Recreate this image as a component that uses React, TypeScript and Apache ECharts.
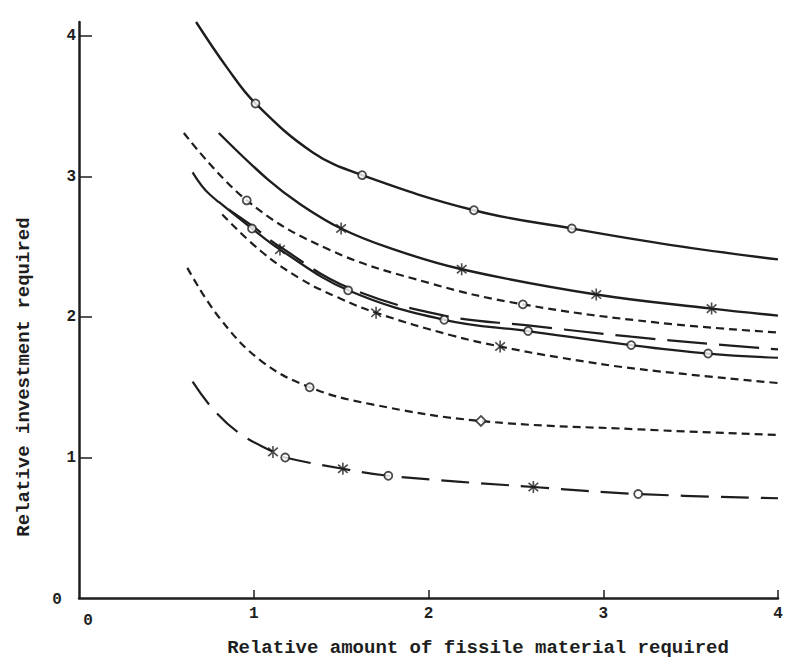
import React, { useEffect, useRef } from "react";
import * as echarts from "echarts";

const xTicks = [1, 2, 3, 4];
const yTicks = [1, 2, 3, 4];
const xTitle = "Relative amount of fissile material required";
const yTitle = "Relative investment required";

// Curves: [relative fissile material, relative investment]
const curve1 = [[0.67, 4.1], [0.85, 3.77], [1.01, 3.52], [1.34, 3.17], [1.62, 3.01], [2.26, 2.76], [2.82, 2.63], [3.4, 2.51], [4.0, 2.41]];
const curve1Circles = [[1.01, 3.52], [1.62, 3.01], [2.26, 2.76], [2.82, 2.63]];

const curve2 = [[0.8, 3.31], [1.08, 2.98], [1.27, 2.8], [1.5, 2.63], [1.78, 2.49], [2.19, 2.34], [2.96, 2.16], [3.62, 2.06], [4.0, 2.01]];
const curve2Stars = [[1.5, 2.63], [2.19, 2.34], [2.96, 2.16], [3.62, 2.06]];

const curve3 = [[0.6, 3.31], [0.96, 2.83], [1.43, 2.48], [2.01, 2.24], [2.54, 2.09], [3.31, 1.96], [4.0, 1.89]];
const curve3Circles = [[0.96, 2.83], [2.54, 2.09]];

const curve4 = [[0.65, 3.03], [0.75, 2.87], [0.99, 2.65], [1.15, 2.5], [1.54, 2.21], [2.09, 2.01], [2.57, 1.94], [3.16, 1.86], [3.6, 1.81], [4.0, 1.77]];

const curve5 = [[0.8, 2.82], [0.99, 2.63], [1.15, 2.48], [1.54, 2.19], [2.09, 1.98], [2.57, 1.9], [3.16, 1.8], [3.6, 1.74], [4.0, 1.71]];
const curve5Circles = [[0.99, 2.63], [1.54, 2.19], [2.09, 1.98], [2.57, 1.9], [3.16, 1.8], [3.6, 1.74]];
const curve5Stars = [[1.15, 2.48]];

const curve6 = [[0.82, 2.73], [1.04, 2.47], [1.27, 2.27], [1.48, 2.14], [1.7, 2.03], [2.13, 1.87], [2.41, 1.79], [2.76, 1.71], [3.2, 1.63], [4.0, 1.53]];
const curve6Stars = [[1.7, 2.03], [2.41, 1.79]];

const curve7 = [[0.62, 2.35], [0.8, 2.0], [1.04, 1.69], [1.32, 1.5], [1.67, 1.38], [2.3, 1.26], [3.21, 1.2], [4.0, 1.16]];
const curve7Circles = [[1.32, 1.5]];
const curve7Diamonds = [[2.3, 1.26]];

const curve8 = [[0.65, 1.54], [0.77, 1.34], [0.92, 1.17], [1.11, 1.04], [1.18, 1.0], [1.51, 0.92], [1.77, 0.87], [2.6, 0.79], [3.2, 0.74], [4.0, 0.71]];
const curve8Circles = [[1.18, 1.0], [1.77, 0.87], [3.2, 0.74]];
const curve8Stars = [[1.11, 1.04], [1.51, 0.92], [2.6, 0.79]];

const INK = "#1e1e1e";
const FONT = "Liberation Mono";
const STAR = "path://M5,0L5,10M1,1.5L9,8.5M9,1.5L1,8.5";

function lineSeries(data: number[][], type: any, width = 2.2) {
  return {
    type: "line",
    data,
    smooth: 0.4,
    showSymbol: false,
    symbol: "none",
    silent: true,
    lineStyle: { color: INK, width, type },
    z: 2,
  };
}

function markerSeries(data: number[][], kind: "circle" | "star" | "diamond") {
  if (kind === "star") {
    return {
      type: "scatter",
      data,
      symbol: STAR,
      symbolSize: 12,
      symbolKeepAspect: true,
      itemStyle: { color: "none", borderColor: INK, borderWidth: 1.6 },
      z: 4,
    };
  }
  return {
    type: "scatter",
    data,
    symbol: kind === "circle" ? "circle" : "diamond",
    symbolSize: kind === "circle" ? 8 : 10,
    itemStyle: { color: "#ffffff", borderColor: INK, borderWidth: 1.8 },
    z: 4,
  };
}

export default function App() {
  const ref = useRef<HTMLDivElement>(null);
  useEffect(() => {
    if (!ref.current) return;
    const chart = echarts.init(ref.current, null, { renderer: "svg" });
    const shortDash = [8, 5];
    chart.setOption({
      animation: false,
      backgroundColor: "#ffffff",
      grid: { left: 79, right: 14, top: 22, bottom: 67, containLabel: false },
      xAxis: {
        type: "value",
        min: 0,
        max: 4,
        interval: 1,
        splitLine: { show: false },
        axisLine: { show: true, lineStyle: { color: INK, width: 2.5 } },
        axisTick: { show: true, inside: true, length: 8, customValues: xTicks, lineStyle: { color: INK, width: 1.5 } },
        axisLabel: {
          customValues: xTicks,
          margin: 8,
          color: INK,
          fontFamily: FONT,
          fontWeight: "bold",
          fontSize: 16,
          formatter: (v: number) => (v === 0 ? "" : String(v)),
        },
      },
      yAxis: {
        type: "value",
        min: 0,
        max: 4.1,
        interval: 1,
        splitLine: { show: false },
        axisLine: { show: true, lineStyle: { color: INK, width: 2.5 } },
        axisTick: { show: true, inside: true, length: 13, customValues: yTicks, lineStyle: { color: INK, width: 1.5 } },
        axisLabel: {
          customValues: yTicks,
          margin: 3,
          color: INK,
          fontFamily: FONT,
          fontWeight: "bold",
          fontSize: 16,
          formatter: (v: number) => (Number.isInteger(v) && v !== 0 ? String(v) : ""),
        },
      },
      graphic: [
        { type: "text", x: 57, y: 600, style: { text: "0", font: `bold 16px "${FONT}"`, fill: INK, align: "center", verticalAlign: "middle" } },
        { type: "text", x: 88, y: 621, style: { text: "0", font: `bold 16px "${FONT}"`, fill: INK, align: "center", verticalAlign: "middle" } },
        { type: "text", x: 478, y: 648, style: { text: xTitle, font: `bold 19px "${FONT}"`, fill: INK, align: "center", verticalAlign: "middle" } },
        { type: "text", x: 24, y: 377, rotation: Math.PI / 2, style: { text: yTitle, font: `bold 19px "${FONT}"`, fill: INK, align: "center", verticalAlign: "middle" } },
      ],
      series: [
        lineSeries(curve1, "solid", 2.4),
        lineSeries(curve2, "solid", 2.4),
        lineSeries(curve3, shortDash),
        lineSeries(curve4, [40, 12]),
        lineSeries(curve5, "solid", 2.2),
        lineSeries(curve6, shortDash),
        lineSeries(curve7, shortDash),
        lineSeries(curve8, [28, 12]),
        markerSeries(curve1Circles, "circle"),
        markerSeries(curve2Stars, "star"),
        markerSeries(curve3Circles, "circle"),
        markerSeries(curve5Circles, "circle"),
        markerSeries(curve5Stars, "star"),
        markerSeries(curve6Stars, "star"),
        markerSeries(curve7Circles, "circle"),
        markerSeries(curve7Diamonds, "diamond"),
        markerSeries(curve8Circles, "circle"),
        markerSeries(curve8Stars, "star"),
      ],
    });
    return () => chart.dispose();
  }, []);
  return <div ref={ref} style={{ position: "fixed", left: 0, top: 0, width: 792, height: 665 }} />;
}
